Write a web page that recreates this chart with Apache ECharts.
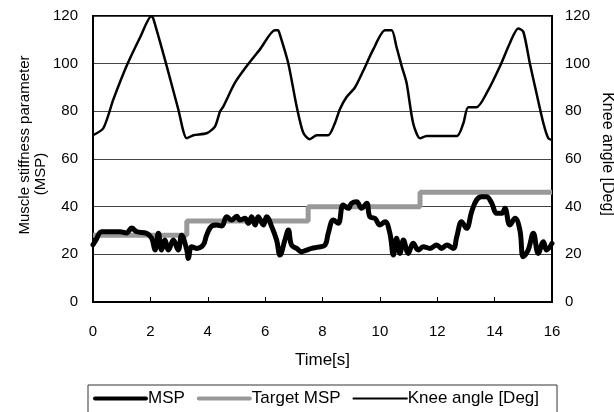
<!DOCTYPE html>
<html>
<head>
<meta charset="utf-8">
<script src="https://cdn.jsdelivr.net/npm/echarts@6/dist/echarts.min.js"></script>
<style>html,body{margin:0;padding:0;background:#fff;}#c{width:614px;height:412px;}</style>
</head>
<body>
<div id="c"></div>
<script>
var yTicks = [0, 20, 40, 60, 80, 100, 120];
var xTicks = [0, 2, 4, 6, 8, 10, 12, 14, 16];

var mspTime = [0,0.1,0.3,0.59,0.94,1.17,1.35,1.52,1.87,2.05,2.16,2.28,2.39,2.51,2.63,2.8,2.97,3.09,3.27,3.32,3.44,3.61,3.84,3.96,4.14,4.31,4.49,4.66,4.83,5.01,5.12,5.30,5.42,5.53,5.65,5.76,5.94,6.05,6.23,6.40,6.52,6.69,6.81,6.92,7.1,7.27,7.45,7.62,7.85,8.09,8.2,8.38,8.55,8.72,8.9,9.01,9.19,9.36,9.54,9.65,9.83,10.0,10.18,10.35,10.47,10.58,10.70,10.82,10.99,11.16,11.34,11.51,11.75,11.98,12.15,12.33,12.56,12.68,12.85,13.02,13.2,13.37,13.55,13.72,13.9,14.07,14.25,14.36,14.53,14.71,14.88,15.0,15.17,15.35,15.52,15.7,15.81,16];
var mspValue = [24,26,29.5,29.5,29.5,29,31,29.5,28.8,26.7,21.8,28.8,21.8,26,21.8,26,21.8,28,21.8,18.3,23.2,22.5,23.9,28,31.9,32.3,31.9,35.8,34.4,36,34.4,35.1,33,35.8,32.3,35.8,32.3,35.8,31.6,26,19.7,26,30.2,23.9,22.5,21.1,21.8,22.5,23,23.9,28.8,34.4,33,40.7,39.3,41.4,42.1,39.3,41.4,35.8,35.1,32.3,33.7,28.8,19.7,26.7,20.4,26,20.4,24.6,21.8,23.2,22.5,23.9,22.5,23.9,22.5,27.4,33.7,30.9,37.9,42.8,44.2,44.2,41.4,37.2,37.2,39.3,32.3,35.1,30.2,19,21.8,28.8,20.4,25.3,21.8,24.6];

var targetTime = [0, 3.27, 7.5, 11.4, 16];
var targetValue = [28, 34, 40, 46, 46];

var kneeTime = [0,0.36,0.71,1.17,1.64,2.04,2.1,2.57,2.97,3.27,3.5,3.96,4.25,4.43,4.54,4.95,5.36,5.82,6.34,6.45,6.52,6.81,7.10,7.33,7.56,7.8,8.2,8.43,8.61,8.84,9.13,9.42,9.77,10.18,10.41,10.58,10.76,10.93,11.16,11.4,11.63,12.68,12.91,13.08,13.37,13.72,14.19,14.53,14.82,15.0,15.23,15.46,15.70,15.87,16];
var kneeValue = [70,72.9,85,99,111,120,119,99,81,68.7,70,70.8,73.6,80,82,92,99,106,114,114,112,100,82,71,68.3,70,70,75,81,86,90,97,106,114,114,107,99,92,75,68.7,69.7,69.7,75,81.7,81.7,87.6,99,108.6,114.8,113.4,100,87.6,75,68.7,68];

function pairs(xs, ys) { return xs.map(function (x, i) { return [x, ys[i]]; }); }

var FONT = 'Liberation Sans, Arial, sans-serif';
var chart = echarts.init(document.getElementById('c'), null, {renderer: 'canvas'});
chart.setOption({
  animation: false,
  backgroundColor: '#fff',
  grid: {left: 93, right: 62, top: 16, bottom: 110, show: true, borderColor: '#000', borderWidth: 2, backgroundColor: 'transparent'},
  xAxis: {
    type: 'value', min: xTicks[0], max: xTicks[xTicks.length - 1], interval: 2,
    name: 'Time[s]', nameLocation: 'middle', nameGap: 50,
    nameTextStyle: {fontFamily: FONT, fontSize: 17, color: '#000'},
    axisLine: {lineStyle: {color: '#000', width: 2}},
    axisTick: {show: true, inside: true, length: 5, lineStyle: {color: '#000', width: 1}},
    axisLabel: {fontFamily: FONT, fontSize: 15, color: '#000', margin: 22},
    splitLine: {show: false}
  },
  yAxis: [{
    type: 'value', min: yTicks[0], max: yTicks[yTicks.length - 1], interval: 20,
    axisLine: {show: true, lineStyle: {color: '#000', width: 2}},
    axisTick: {show: false},
    axisLabel: {fontFamily: FONT, fontSize: 15, color: '#000', margin: 15},
    splitLine: {show: true, lineStyle: {color: '#444', width: 1}}
  }, {
    type: 'value', min: yTicks[0], max: yTicks[yTicks.length - 1], interval: 20, position: 'right',
    axisLine: {show: true, lineStyle: {color: '#000', width: 2}},
    axisTick: {show: false},
    axisLabel: {fontFamily: FONT, fontSize: 15, color: '#000', margin: 13},
    splitLine: {show: false}
  }],
  legend: {
    left: 88, top: 385, padding: [5, 18, 12, 5],
    borderColor: '#333', borderWidth: 1, backgroundColor: '#fff',
    itemWidth: 55, itemHeight: 14, itemGap: 12, symbolKeepAspect: true,
    textStyle: {fontFamily: FONT, fontSize: 17, color: '#000', padding: [0, 0, 0, -5]},
    data: [
      {name: 'MSP', icon: 'path://M2,0 H53 A2,2 0 0 1 53,4 H2 A2,2 0 0 1 2,0 Z', itemStyle: {color: '#000'}},
      {name: 'Target MSP', icon: 'path://M2,0 H53 A2,2 0 0 1 53,4 H2 A2,2 0 0 1 2,0 Z', itemStyle: {color: '#999'}},
      {name: 'Knee angle [Deg]', icon: 'path://M0,0 H55 V2 H0 Z', itemStyle: {color: '#000'}}
    ]
  },
  graphic: [
    {type: 'text', x: 25, y: 145, rotation: Math.PI / 2,
     style: {text: 'Muscle stiffness parameter', font: '15px ' + FONT, fill: '#000', textAlign: 'center', textVerticalAlign: 'middle'}},
    {type: 'text', x: 41, y: 174, rotation: Math.PI / 2,
     style: {text: '(MSP)', font: '15px ' + FONT, fill: '#000', textAlign: 'center', textVerticalAlign: 'middle'}},
    {type: 'text', x: 607, y: 154, rotation: -Math.PI / 2,
     style: {text: 'Knee angle [Deg]', font: '16px ' + FONT, fill: '#000', textAlign: 'center', textVerticalAlign: 'middle'}}
  ],
  series: [{
    name: 'MSP', type: 'line', data: pairs(mspTime, mspValue), showSymbol: false, symbol: 'none',
    smooth: 0.4, z: 3, lineStyle: {color: '#000', width: 5, cap: 'round', join: 'round'}, itemStyle: {color: '#000'}
  }, {
    name: 'Target MSP', type: 'line', data: pairs(targetTime, targetValue), step: 'end', showSymbol: false, symbol: 'none',
    z: 2, lineStyle: {color: '#999', width: 5}, itemStyle: {color: '#999'}
  }, {
    name: 'Knee angle [Deg]', type: 'line', yAxisIndex: 1, data: pairs(kneeTime, kneeValue), showSymbol: false, symbol: 'none',
    smooth: 0.25, z: 4, lineStyle: {color: '#000', width: 2.5, join: 'round'}, itemStyle: {color: '#000'}
  }]
});
</script>
</body>
</html>
